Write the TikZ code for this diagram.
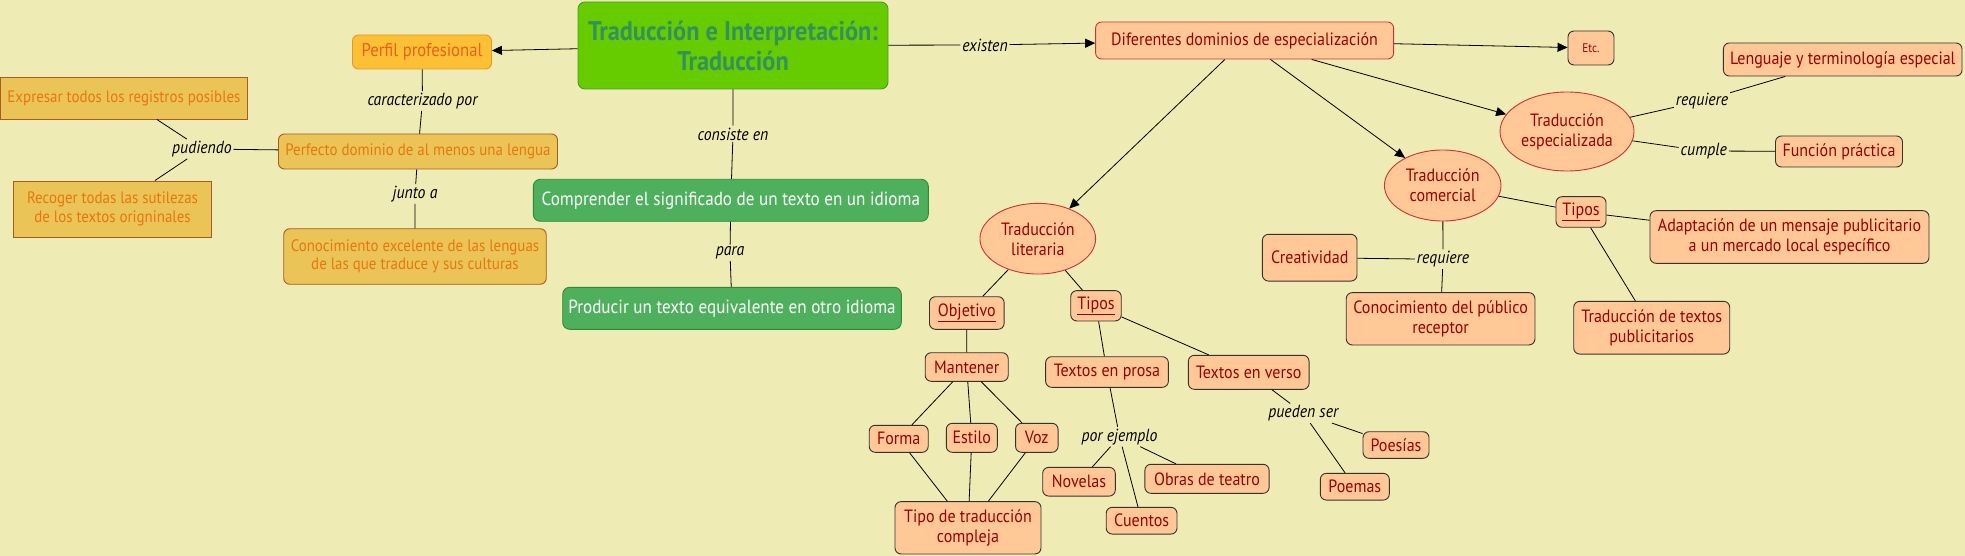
\documentclass[tikz,border=0pt]{standalone}
\usepackage{fontspec}
\setmainfont[FakeStretch=0.9]{PT Sans}
\usetikzlibrary{shapes.geometric, arrows.meta}
\definecolor{fondo}{RGB}{238,235,180}
\definecolor{verdeprin}{RGB}{102,204,0}
\definecolor{bordeprin}{RGB}{76,153,40}
\definecolor{textoprin}{RGB}{51,145,95}
\definecolor{naranja}{RGB}{252,192,52}
\definecolor{bordenaranja}{RGB}{232,150,40}
\definecolor{textonaranja}{RGB}{232,96,28}
\definecolor{amarillo}{RGB}{235,196,88}
\definecolor{bordeamarillo}{RGB}{170,90,35}
\definecolor{textoamarillo}{RGB}{232,118,16}
\definecolor{verdeclaro}{RGB}{78,176,92}
\definecolor{bordeverde}{RGB}{46,138,58}
\definecolor{melocoton}{RGB}{255,200,150}
\definecolor{rojo}{RGB}{204,51,51}
\definecolor{granate}{RGB}{153,0,0}

\begin{document}
\begin{tikzpicture}[x=1pt, y=-1pt, line width=0.8pt,
    every node/.style={align=center, inner sep=0pt, line width=0.9pt},
    sz/.style 2 args={minimum width=#1pt, minimum height=#2pt},
    principal/.style={draw=bordeprin, fill=verdeprin, rounded corners=7pt, text=textoprin, font=\fontsize{27}{30}\selectfont\bfseries},
    destacado/.style={draw=bordenaranja, fill=naranja, rounded corners=6pt, text=textonaranja, font=\fontsize{18.5}{20}\selectfont},
    amarilla/.style={draw=bordeamarillo, fill=amarillo, text=textoamarillo, font=\fontsize{16.6}{18.3}\selectfont},
    verdebox/.style={draw=bordeverde, fill=verdeclaro, rounded corners=7pt, text=white, font=\fontsize{19}{21}\selectfont},
    concepto/.style={draw=black!80, fill=melocoton, rounded corners=6pt, text=granate, font=\fontsize{17.8}{20}\selectfont},
    rama/.style={concepto, draw=rojo, shape=ellipse},
    enlace/.style={inner sep=1.5pt, font=\fontsize{17.5}{18}\selectfont\itshape},
    flecha/.style={-{Triangle[length=10pt, width=9pt]}}]
    \fill[fondo] (0,0) rectangle (1965,556);
    \useasboundingbox (0,0) rectangle (1965,556);

    \node[principal, sz={310}{87}] (main) at (733,45.5) {Traducción e Interpretación:\\Traducción};
    \node[destacado, sz={139}{34}] (perfil) at (422,52) {Perfil profesional};
    \node[amarilla, sz={247}{42}] (expresar) at (124,98) {Expresar todos los registros posibles};
    \node[amarilla, rounded corners=6pt, sz={279}{35}] (dominio) at (418,151.5) {Perfecto dominio de al menos una lengua};
    \node[amarilla, sz={198}{56}] (recoger) at (112.5,209) {Recoger todas las sutilezas\\de los textos origninales};
    \node[amarilla, rounded corners=6pt, sz={262.5}{55.5}] (lenguas) at (415,256.5) {Conocimiento excelente de las lenguas\\de las que traduce y sus culturas};
    \node[verdebox, sz={395}{42}] (comprender) at (730.8,200.3) {Comprender el significado de un texto en un idioma};
    \node[verdebox, sz={338.6}{42}] (producir) at (732,308.3) {Producir un texto equivalente en otro idioma};
    \node[concepto, draw=rojo, sz={298}{37}] (dominios) at (1244.6,40.5) {Diferentes dominios de especialización};
    \node[concepto, sz={46}{34}, font=\fontsize{12.5}{14}\selectfont] (etc) at (1591,48) {Etc.};
    \node[concepto, sz={238.6}{33}] (lenguaje) at (1842.7,59.5) {Lenguaje y terminología especial};
    \node[rama, sz={134}{79}] (especializada) at (1567,131.5) {Traducción\\especializada};
    \node[concepto, sz={127}{31}] (funcion) at (1839,151.5) {Función práctica};
    \node[rama, sz={116.6}{71}] (comercial) at (1442.7,185.5) {Traducción\\comercial};
    \node[concepto, sz={50}{30.6}] (tiposc) at (1581,212) {\underline{Tipos}};
    \node[concepto, sz={279}{52.6}] (adaptacion) at (1789.5,237) {Adaptación de un mensaje publicitario\\a un mercado local específico};
    \node[concepto, sz={94.6}{46.7}] (creatividad) at (1309.7,257.7) {Creatividad};
    \node[concepto, sz={188.7}{52.3}] (publico) at (1440.6,318.8) {Conocimiento del público\\receptor};
    \node[concepto, sz={156}{52.7}] (publicitarios) at (1651.7,327.7) {Traducción de textos\\publicitarios};
    \node[rama, sz={115.7}{70.7}] (literaria) at (1037.8,238.7) {Traducción\\literaria};
    \node[concepto, sz={74.7}{32.6}] (objetivo) at (966.8,313) {\underline{Objetivo}};
    \node[concepto, sz={50.5}{30.3}] (tiposl) at (1096,305.8) {\underline{Tipos}};
    \node[concepto, sz={83}{28.6}] (mantener) at (966.7,367) {Mantener};
    \node[concepto, sz={122.7}{30.6}] (prosa) at (1107,372) {Textos en prosa};
    \node[concepto, sz={120.7}{34}] (verso) at (1248.7,372.3) {Textos en verso};
    \node[concepto, sz={59}{27}] (forma) at (898.7,438.8) {Forma};
    \node[concepto, sz={51}{29}] (estilo) at (971.8,437.8) {Estilo};
    \node[concepto, sz={42.5}{29}] (voz) at (1036.8,437.8) {Voz};
    \node[concepto, sz={146}{52.3}] (compleja) at (968,527.8) {Tipo de traducción\\compleja};
    \node[concepto, sz={72.6}{28.7}] (novelas) at (1079,481.7) {Novelas};
    \node[concepto, sz={124.2}{29}] (obras) at (1207,478.8) {Obras de teatro};
    \node[concepto, sz={70.8}{26.7}] (cuentos) at (1141.6,520.7) {Cuentos};
    \node[concepto, sz={66}{26.6}] (poesias) at (1396,445) {Poesías};
    \node[concepto, sz={69}{26.7}] (poemas) at (1354.8,486.7) {Poemas};

    \node[enlace] (caract) at (422.5,101) {caracterizado por};
    \node[enlace] (pudiendo) at (202,149) {pudiendo};
    \node[enlace] (junto) at (415,194) {junto a};
    \node[enlace] (consiste) at (733,134) {consiste en};
    \node[enlace] (para) at (730,252.7) {para};
    \node[enlace] (existen) at (985,45) {existen};
    \node[enlace] (req1) at (1702,101) {requiere};
    \node[enlace] (cumple) at (1703.7,151) {cumple};
    \node[enlace] (req2) at (1443,259.3) {requiere};
    \node[enlace] (ejemplo) at (1119.5,436.7) {por ejemplo};
    \node[enlace] (pueden) at (1303.3,413.3) {pueden ser};

    \draw[flecha] (main) -- (perfil);
    \draw (perfil) -- (caract) -- (dominio);
    \draw (dominio) -- (pudiendo) -- (expresar);
    \draw (pudiendo) -- (recoger);
    \draw (dominio) -- (junto) -- (lenguas);
    \draw (main) -- (consiste) -- (comprender) -- (para) -- (producir);
    \draw (main) -- (existen);
    \draw[flecha] (existen) -- (dominios);
    \draw[flecha] (dominios) -- (etc);
    \draw[flecha] (dominios) -- (literaria);
    \draw[flecha] (dominios) -- (comercial);
    \draw[flecha] (dominios) -- (especializada);
    \draw (especializada) -- (req1) -- (lenguaje);
    \draw (especializada) -- (cumple) -- (funcion);
    \draw (comercial) -- (tiposc) -- (adaptacion);
    \draw (tiposc) -- (publicitarios);
    \draw (comercial) -- (req2) -- (publico);
    \draw (creatividad) -- (req2);
    \draw (literaria) -- (objetivo) -- (mantener);
    \draw (literaria) -- (tiposl) -- (prosa);
    \draw (tiposl) -- (verso);
    \draw (mantener) -- (forma) -- (compleja);
    \draw (mantener) -- (estilo) -- (compleja);
    \draw (mantener) -- (voz) -- (compleja);
    \draw (prosa) -- (ejemplo) -- (novelas);
    \draw (ejemplo) -- (cuentos);
    \draw (ejemplo) -- (obras);
    \draw (verso) -- (pueden) -- (poesias);
    \draw (pueden) -- (poemas);
\end{tikzpicture}
\end{document}
